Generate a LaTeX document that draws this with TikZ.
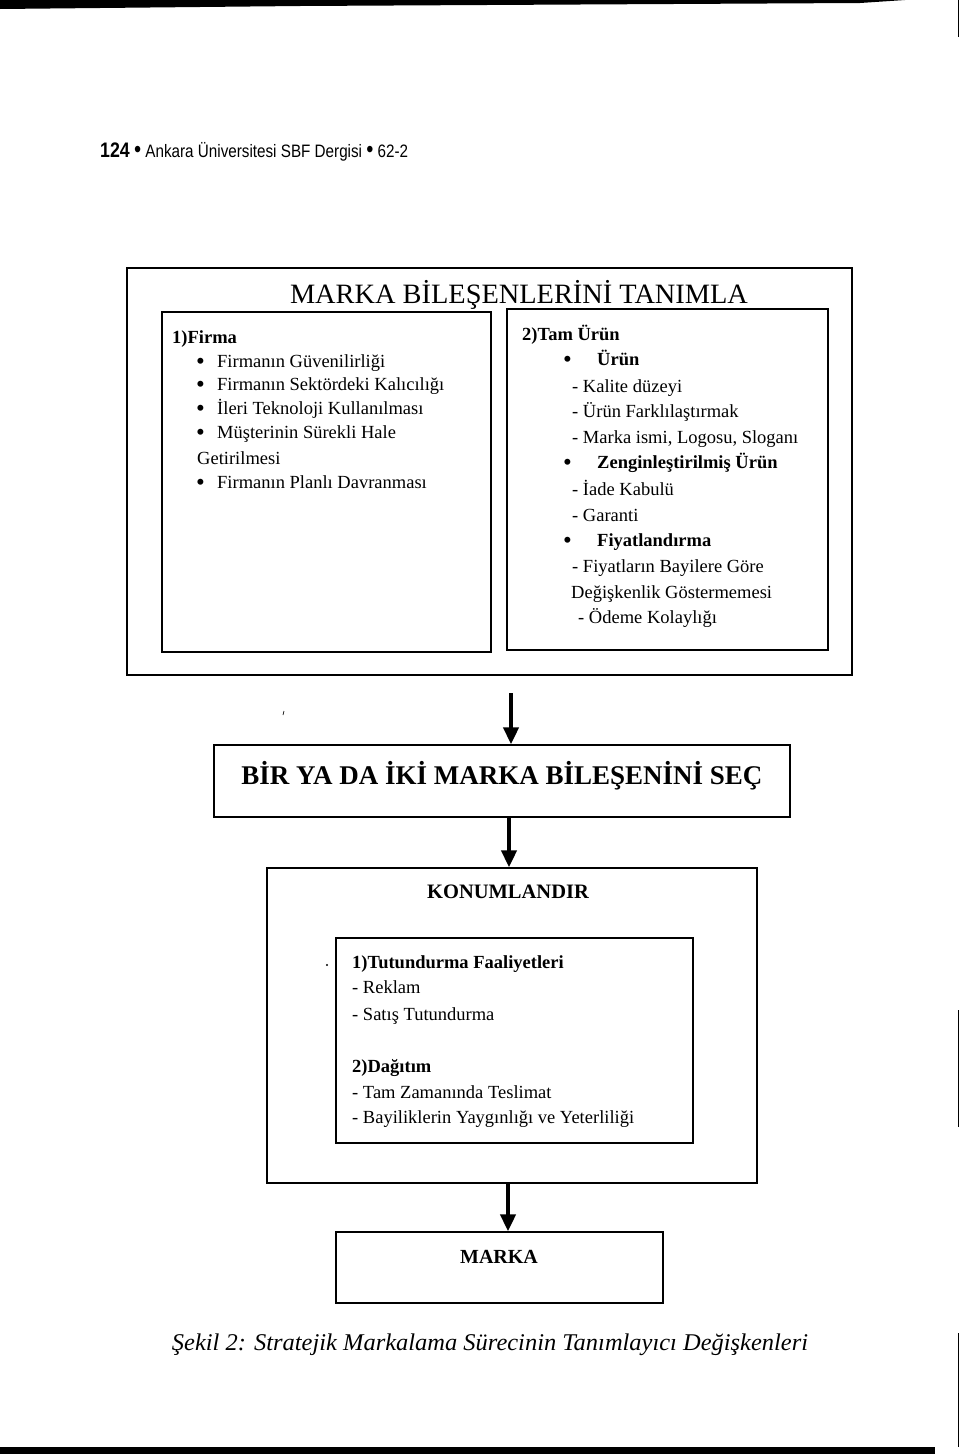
\documentclass[tikz,border=0pt]{standalone}
\usepackage{fontspec}
\setmainfont{Liberation Serif}
\newfontfamily\hdrfont{Liberation Sans}
\usepackage{graphicx}
\usetikzlibrary{arrows.meta,calc}
\tikzset{
  box/.style={draw, line width=1.4pt, inner sep=0pt},
  txt/.style={anchor=base west, inner sep=0pt, font=\fontsize{18.5}{20}\selectfont},
  btxt/.style={anchor=base west, inner sep=0pt, font=\fontsize{18.5}{20}\selectfont\bfseries},
  bul/.style={anchor=base west, inner sep=0pt, font=\fontsize{25}{20}\selectfont},
  ctxt/.style={anchor=base, inner sep=0pt},
  arr/.style={line width=4.5pt, -{Triangle[width=15pt,length=17pt]}},
  scan/.style={fill=black, draw=none},
}
\begin{document}
\begin{tikzpicture}[x=1pt,y=-1pt]
\useasboundingbox (0,0) rectangle (960,1454);
% scan edges
\fill[scan] (0,0) -- (905,0) -- (860,3) -- (300,6) -- (0,9) -- cycle;
\fill[scan] (0,1447) rectangle (935,1454);
\draw[line width=1pt] (958,0) -- (958,37);
\draw[line width=1pt] (958,1010) -- (958,1127);
\draw[line width=1pt] (958,1333) -- (958,1447);
\draw[line width=0.7pt] (284,711) -- (283,715);
\fill (327,965) circle (1.2);

% header
\node[anchor=base west, inner sep=0pt] (hdr) at (100,157)
  {\resizebox{308pt}{\height}{\hdrfont\fontsize{18}{20}\selectfont{\bfseries\fontsize{21}{20}\selectfont 124} {\fontsize{24}{20}\selectfont•} Ankara Üniversitesi SBF Dergisi {\fontsize{24}{20}\selectfont•} 62-2}};

% top block
\node[box, minimum width=725pt, minimum height=407pt] (outer) at (489.5,471.5) {};
\node[ctxt] (title) at (519,303)
  {\resizebox{458pt}{\height}{\fontsize{28}{30}\selectfont MARKA BİLEŞENLERİNİ TANIMLA}};
\node[box, minimum width=329pt, minimum height=340pt] (left) at (326.5,482) {};
\node[box, minimum width=321pt, minimum height=341pt] (right) at (667.5,479.5) {};

% left box text
\node[btxt] (f0) at (172,343) {1)Firma};
\node[bul] (fb1) at (196,369) {•};
\node[txt] (f1) at (217,367) {Firmanın Güvenilirliği};
\node[bul] (fb2) at (196,392) {•};
\node[txt] (f2) at (217,390) {Firmanın Sektördeki Kalıcılığı};
\node[bul] (fb3) at (196,416) {•};
\node[txt] (f3) at (217,414) {İleri Teknoloji Kullanılması};
\node[bul] (fb4) at (196,440) {•};
\node[txt] (f4) at (217,438) {Müşterinin Sürekli Hale};
\node[txt] (f5) at (197,464) {Getirilmesi};
\node[bul] (fb6) at (196,490) {•};
\node[txt] (f6) at (217,488) {Firmanın Planlı Davranması};

% right box text
\node[btxt] (r0) at (522,340) {2)Tam Ürün};
\node[bul] (rb1) at (563,367) {•};
\node[btxt] (r1) at (597,365) {Ürün};
\node[txt] (r2) at (572,392) {- Kalite düzeyi};
\node[txt] (r3) at (572,417) {- Ürün Farklılaştırmak};
\node[txt] (r4) at (572,443) {- Marka ismi, Logosu, Sloganı};
\node[bul] (rb5) at (563,470) {•};
\node[btxt] (r5) at (597,468) {Zenginleştirilmiş Ürün};
\node[txt] (r6) at (572,495) {- İade Kabulü};
\node[txt] (r7) at (572,521) {- Garanti};
\node[bul] (rb8) at (563,548) {•};
\node[btxt] (r8) at (597,546) {Fiyatlandırma};
\node[txt] (r9) at (572,572) {- Fiyatların Bayilere Göre};
\node[txt] (r10) at (571,598) {Değişkenlik Göstermemesi};
\node[txt] (r11) at (578,623) {- Ödeme Kolaylığı};

% second box
\node[box, minimum width=576pt, minimum height=72pt] (sec) at (502,781) {};
\node[ctxt] (sect) at (502,784)
  {\fontsize{27}{29}\selectfont\bfseries BİR YA DA İKİ MARKA BİLEŞENİNİ SEÇ};

% konumlandir
\node[box, minimum width=490pt, minimum height=315pt] (kon) at (512,1025.5) {};
\node[ctxt] (kont) at (508,898) {\fontsize{20.5}{22}\selectfont\bfseries KONUMLANDIR};
\node[box, minimum width=357pt, minimum height=205pt] (inner) at (514.5,1040.5) {};
\node[btxt] (k1) at (352,968) {1)Tutundurma Faaliyetleri};
\node[txt] (k2) at (352,993) {- Reklam};
\node[txt] (k3) at (352,1020) {- Satış Tutundurma};
\node[btxt] (k4) at (352,1072) {2)Dağıtım};
\node[txt] (k5) at (352,1098) {- Tam Zamanında Teslimat};
\node[txt] (k6) at (352,1123) {- Bayiliklerin Yaygınlığı ve Yeterliliği};

% marka
\node[box, minimum width=327pt, minimum height=71pt] (marka) at (499.5,1267.5) {};
\node[ctxt] (markat) at (499,1263) {\fontsize{20}{22}\selectfont\bfseries MARKA};

% arrows
\coordinate (a1) at (511,693);
\coordinate (a2) at (509,0);
\coordinate (a3) at (508,0);
\draw[arr] (a1) -- (a1 |- sec.north);
\draw[arr] (a2 |- sec.south) -- (a2 |- kon.north);
\draw[arr] (a3 |- kon.south) -- (a3 |- marka.north);

% caption
\node[ctxt] (cap) at (490,1350)
  {\resizebox{636pt}{\height}{\fontsize{24}{26}\selectfont\itshape Şekil 2: Stratejik Markalama Sürecinin Tanımlayıcı Değişkenleri}};
\end{tikzpicture}
\end{document}
